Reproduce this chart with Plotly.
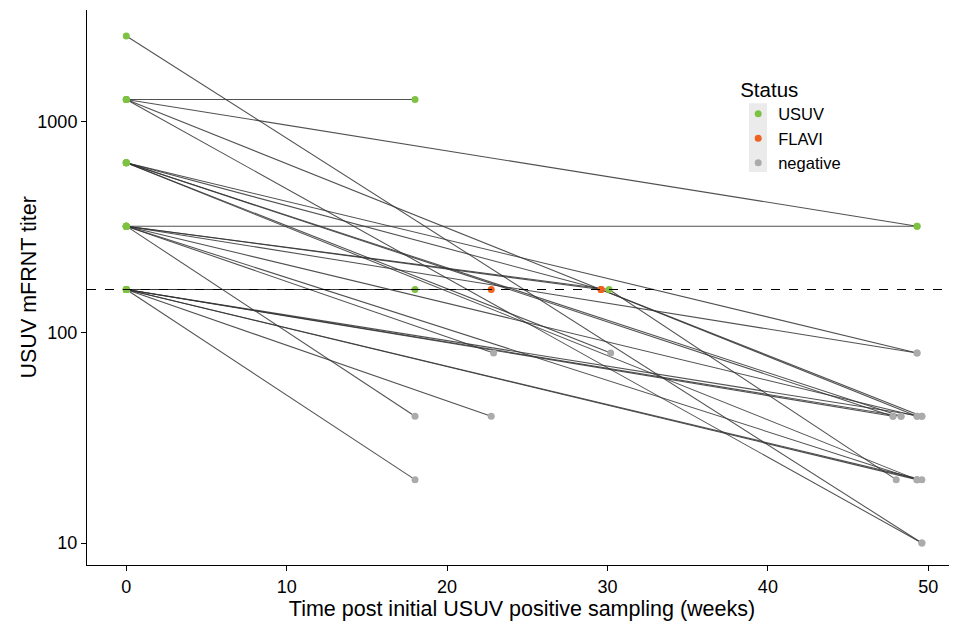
import plotly.graph_objects as go

# one row per sample: individual id, weeks since first positive sample, titer, status
bird = [1, 1,
        2, 2, 3, 3, 4, 4, 4, 5, 5,
        6, 6, 7, 7, 7, 8, 8, 9, 9, 10, 10, 11, 11,
        12, 12, 13, 13, 14, 14, 15, 15, 16, 16, 16, 17, 17, 18, 18, 19, 19,
        20, 20, 21, 21, 22, 22, 23, 23, 24, 24, 25, 25, 26, 26, 27, 27, 28, 28]
weeks = [0, 49.6,
         0, 18.0, 0, 49.3, 0, 29.6, 49.3, 0, 49.6,
         0, 49.3, 0, 29.6, 49.6, 0, 47.8, 0, 48.3, 0, 49.3, 0, 30.2,
         0, 49.3, 0, 18.0, 0, 22.9, 0, 49.3, 0, 30.1, 48.0, 0, 49.3, 0, 49.3, 0, 29.6,
         0, 18.0, 0, 22.75, 0, 18.0, 0, 22.75, 0, 47.8, 0, 48.3, 0, 49.6, 0, 49.3, 0, 49.6]
titer = [2560, 10,
         1280, 1280, 1280, 320, 1280, 160, 40, 1280, 10,
         640, 80, 640, 160, 40, 640, 40, 640, 40, 640, 20, 640, 80,
         320, 320, 320, 40, 320, 80, 320, 80, 320, 160, 20, 320, 40, 320, 20, 320, 160,
         160, 160, 160, 160, 160, 20, 160, 40, 160, 40, 160, 40, 160, 40, 160, 20, 160, 20]
status = ["USUV", "negative",
          "USUV", "USUV", "USUV", "USUV", "USUV", "FLAVI", "negative", "USUV", "negative",
          "USUV", "negative", "USUV", "FLAVI", "negative", "USUV", "negative", "USUV", "negative",
          "USUV", "negative", "USUV", "negative",
          "USUV", "USUV", "USUV", "negative", "USUV", "negative", "USUV", "negative",
          "USUV", "USUV", "negative", "USUV", "negative", "USUV", "negative", "USUV", "FLAVI",
          "USUV", "USUV", "USUV", "FLAVI", "USUV", "negative", "USUV", "negative",
          "USUV", "negative", "USUV", "negative", "USUV", "negative", "USUV", "negative",
          "USUV", "negative"]

status_levels = ["USUV", "FLAVI", "negative"]
status_colors = {"USUV": "#7DC242", "FLAVI": "#EE6220", "negative": "#ABABAB"}
threshold = 160
x_ticks = [0, 10, 20, 30, 40, 50]
y_ticks = [10, 100, 1000]

fig = go.Figure()

# connecting lines per individual
for b in sorted(set(bird)):
    idx = [i for i, v in enumerate(bird) if v == b]
    fig.add_trace(go.Scatter(
        x=[weeks[i] for i in idx], y=[titer[i] for i in idx],
        mode="lines", line=dict(color="rgba(50,50,50,0.85)", width=1.05),
        showlegend=False, hoverinfo="skip"))

# threshold line
fig.add_hline(y=threshold, line=dict(color="black", width=1.1, dash="dash"))

# points per status
for s in status_levels:
    idx = [i for i, v in enumerate(status) if v == s]
    fig.add_trace(go.Scatter(
        x=[weeks[i] for i in idx], y=[titer[i] for i in idx],
        mode="markers", name=s,
        marker=dict(color=status_colors[s], size=7, line=dict(width=0))))

# legend key background (ggplot style)
fig.add_shape(type="rect", xref="paper", yref="paper",
              x0=0.7609, x1=0.7816, y0=0.708, y1=0.832,
              fillcolor="#EBEBEB", line=dict(width=0), layer="below")

# y-axis title placed like ggplot's
fig.add_annotation(text="USUV mFRNT titer", xref="paper", yref="paper",
                   x=-0.0678, y=0.5, textangle=-90, showarrow=False,
                   xanchor="center", yanchor="middle",
                   font=dict(size=21.5, color="black"))

font_family = "Liberation Sans, Arial, sans-serif"
fig.update_layout(
    # page body has an 8px margin, so the figure is offset by 8px
    width=949, height=615,
    margin=dict(l=79, r=0, t=2, b=58),
    plot_bgcolor="white", paper_bgcolor="white",
    font=dict(family=font_family, color="black"),
    legend=dict(
        title=dict(text="Status", font=dict(size=20.5, color="black")),
        x=0.7485, y=0.892, xanchor="left", yanchor="top",
        bgcolor="rgba(0,0,0,0)", font=dict(size=16.5, color="black"),
        itemsizing="trace", tracegroupgap=0),
    xaxis=dict(
        range=[-2.45, 51.79], tickvals=x_ticks, ticktext=[str(t) for t in x_ticks],
        showgrid=False, zeroline=False, showline=True, linecolor="black", linewidth=1,
        ticks="outside", ticklen=5, tickcolor="black", tickfont=dict(size=18, color="black"),
        automargin=False,
        title=dict(text="Time post initial USUV positive sampling (weeks)",
                   font=dict(size=21.5, color="black"), standoff=2)),
    yaxis=dict(
        type="log", range=[0.8955, 3.532], tickvals=y_ticks,
        ticktext=[str(t) for t in y_ticks],
        showgrid=False, zeroline=False, showline=True, linecolor="black", linewidth=1,
        ticks="outside", ticklen=5, tickcolor="black", tickfont=dict(size=18, color="black"),
        automargin=False),
)

fig.write_html("out.html")
